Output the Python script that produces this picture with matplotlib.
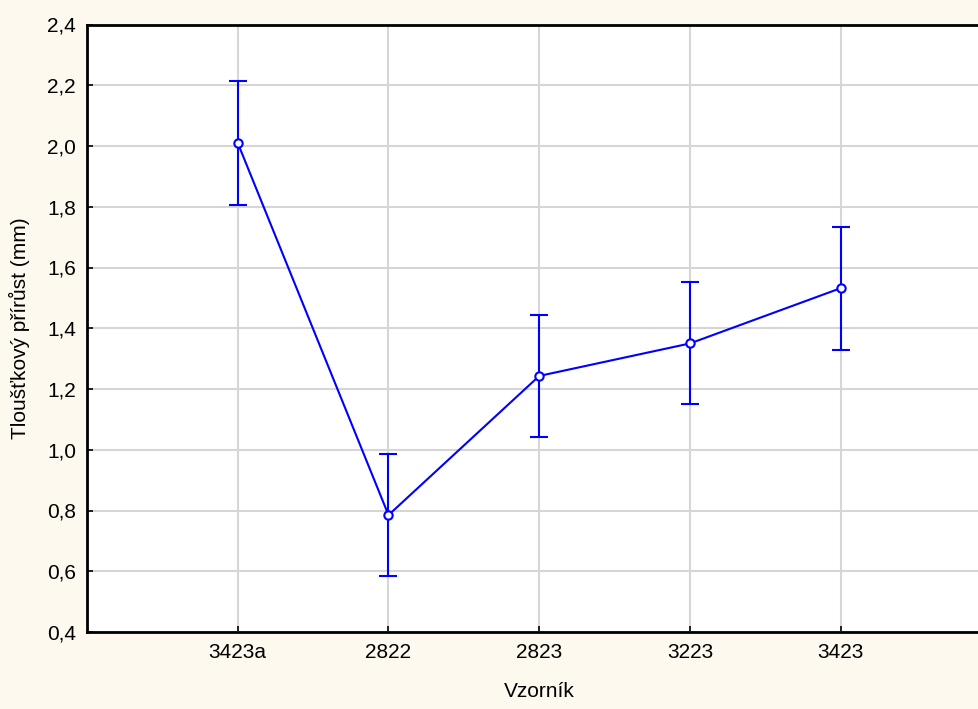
import matplotlib
matplotlib.use("Agg")
import matplotlib.pyplot as plt
from matplotlib.ticker import FuncFormatter

# Sample means with their error margins
samples = ["3423a", "2822", "2823", "3223", "3423"]
means = [2.01, 0.785, 1.243, 1.350, 1.532]
errors = [0.203, 0.201, 0.201, 0.201, 0.202]
y_ticks = [0.4, 0.6, 0.8, 1.0, 1.2, 1.4, 1.6, 1.8, 2.0, 2.2, 2.4]

plt.rcParams["font.family"] = ["Liberation Sans", "DejaVu Sans"]

bg = "#FDF9EE"
fig = plt.figure(figsize=(9.79, 7.09), dpi=100, facecolor=bg)
# plot area runs past the right edge of the figure
ax = fig.add_axes([87 / 979, 1 - 632 / 709, 904.5 / 979, 607.5 / 709])
ax.set_facecolor("white")

x = list(range(len(samples)))
ax.errorbar(x, means, yerr=errors, color="#0000FF", lw=1.5, elinewidth=1.5,
            capsize=6.5, capthick=1.5, marker="o", markersize=6,
            markerfacecolor="white", markeredgecolor="#0000FF",
            markeredgewidth=1.5, zorder=3)

ax.set_xlim(-1, 5)
ax.set_ylim(0.4, 2.4)
ax.set_xticks(x)
ax.set_xticklabels(samples)
ax.set_yticks(y_ticks)
ax.yaxis.set_major_formatter(FuncFormatter(lambda v, p: f"{v:.1f}".replace(".", ",")))

ax.grid(True, color="#D6D6D6", lw=1.5, zorder=0)
ax.set_axisbelow(True)
ax.tick_params(direction="in", length=4, width=1.2, labelsize=15, pad=8, color="black")

for side in ["left", "bottom", "top"]:
    ax.spines[side].set_linewidth(2)
    ax.spines[side].set_color("black")
ax.spines["right"].set_visible(False)

ax.set_xlabel("Vzorník", fontsize=15, labelpad=14)
ax.set_ylabel("Tloušťkový přírůst (mm)", fontsize=15, labelpad=12)

fig.savefig("out.png", dpi=100, facecolor=bg)
